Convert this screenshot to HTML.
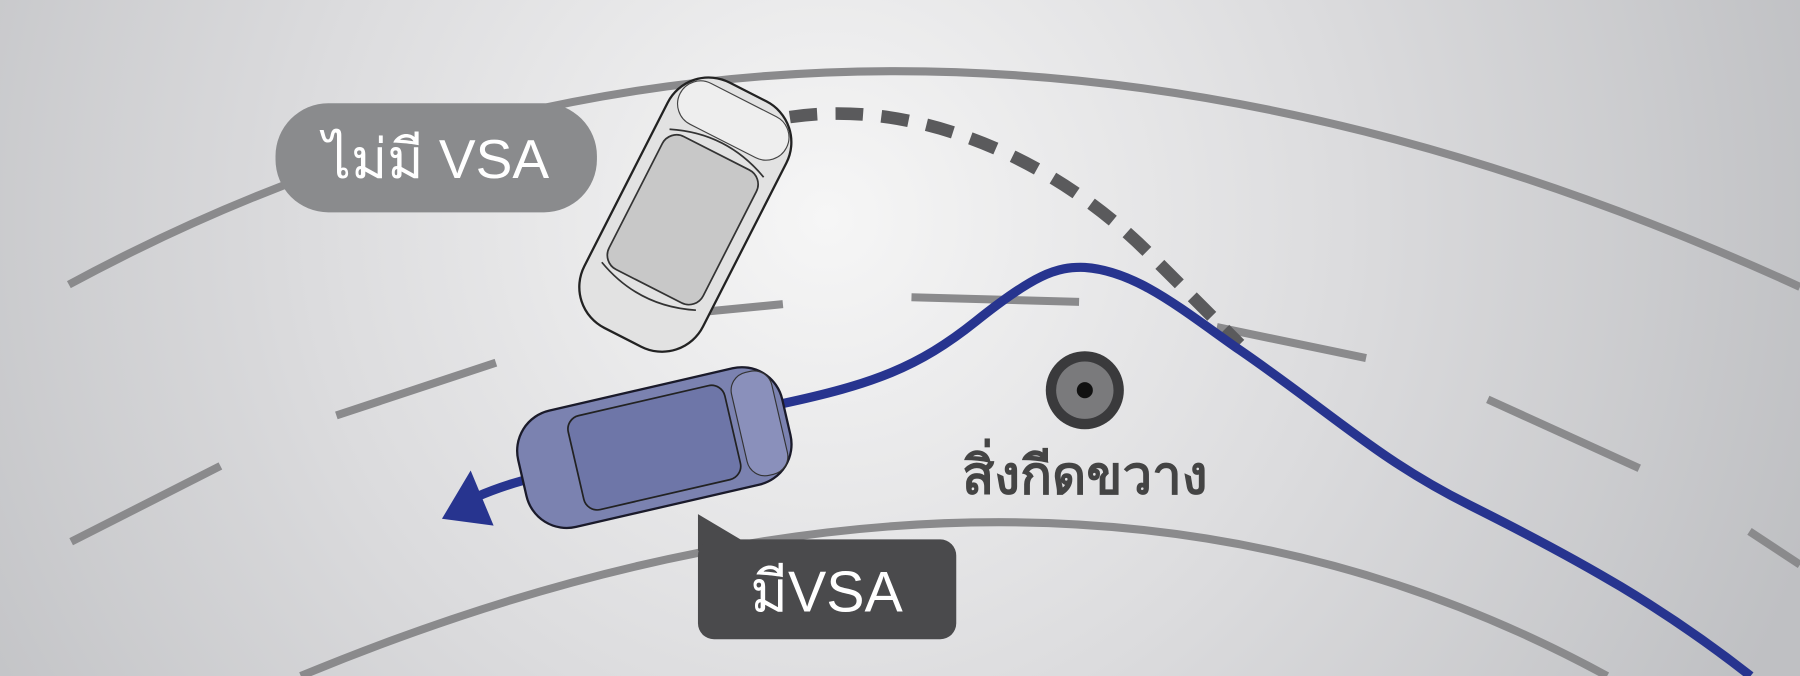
<!DOCTYPE html>
<html><head><meta charset="utf-8"><style>
html,body{margin:0;padding:0;width:1800px;height:676px;overflow:hidden}
svg{display:block}
</style></head><body>
<svg width="1800" height="676" viewBox="0 0 1568 589" preserveAspectRatio="none" xmlns="http://www.w3.org/2000/svg">
<defs>
<radialGradient id="bg" cx="720" cy="190" r="900" gradientUnits="userSpaceOnUse">
<stop offset="0" stop-color="#f6f6f6"/><stop offset="0.5" stop-color="#dcdcde"/><stop offset="1" stop-color="#bfc0c3"/>
</radialGradient>
</defs>
<rect width="1568" height="589" fill="url(#bg)"/>
<g stroke="#8a8a8c" stroke-width="7" fill="none" stroke-linecap="butt">
<path d="M60,248 Q750,-125 1568,250"/>
<path d="M262,589 Q909,321 1400,589"/>
<line x1="62" y1="472" x2="192" y2="406"/>
<line x1="293" y1="362" x2="432" y2="316"/>
<line x1="610" y1="272" x2="682" y2="265"/>
<line x1="794" y1="259" x2="940" y2="263"/>
<line x1="1060" y1="285" x2="1190" y2="312"/>
<line x1="1296" y1="348" x2="1428" y2="408"/>
<line x1="1524" y1="463" x2="1568" y2="492"/>
</g>
<path d="M688,102 C800,85 920,140 1000,220 L1080,300" stroke="#5a5a5c" stroke-width="11" fill="none" stroke-dasharray="24 16"/>
<path d="M680,352 C760,335 800,320 850,280 C900,240 920,232 945,233 C990,236 1030,270 1080,305 C1160,360 1200,400 1280,440 C1380,490 1450,530 1525,589" stroke="#27348f" stroke-width="8" fill="none"/>
<path d="M470,415 Q440,422 415,433" stroke="#27348f" stroke-width="8" fill="none"/>
<polygon points="385,452 430,458 410,410" fill="#27348f"/>
<circle cx="945" cy="340" r="34" fill="#3a3a3c"/>
<circle cx="945" cy="340" r="25" fill="#7a7a7c"/>
<circle cx="945" cy="340" r="7" fill="#111"/>
<!-- white car -->
<g transform="translate(597,187) rotate(27)">
<rect x="-58" y="-120" width="116" height="240" rx="40" fill="#e2e2e2" stroke="#222" stroke-width="2"/>
<rect x="-46" y="-60" width="92" height="130" rx="14" fill="#c8c8c8" stroke="#333" stroke-width="1.5"/>
<path d="M-46,-60 Q0,-80 46,-60" fill="none" stroke="#333" stroke-width="1.5"/>
<path d="M-46,70 Q0,90 46,70" fill="none" stroke="#333" stroke-width="1.5"/>
<rect x="-52" y="-112" width="104" height="40" rx="20" fill="#eee" stroke="#444"/>
</g>
<!-- blue car -->
<g transform="translate(570,390) rotate(-13)">
<rect x="-118" y="-52" width="236" height="104" rx="36" fill="#7b82b0" stroke="#1a1a2a" stroke-width="2"/>
<rect x="-70" y="-42" width="140" height="84" rx="12" fill="#6e76a8" stroke="#222" stroke-width="1.5"/>
<rect x="76" y="-46" width="36" height="92" rx="16" fill="#8a90bb" stroke="#333"/>
</g>
<!-- labels -->
<rect x="240" y="90" width="280" height="95" rx="46" fill="#8a8b8d"/>
<text x="380" y="155" text-anchor="middle" font-family="Liberation Sans, sans-serif" font-size="48" fill="#fff">ไม่มี VSA</text>
<polygon points="608,448 608,480 645,470" fill="#4a4a4c"/>
<rect x="608" y="470" width="225" height="87" rx="14" fill="#4a4a4c"/>
<text x="720" y="533" text-anchor="middle" font-family="Liberation Sans, sans-serif" font-size="50" fill="#fff">มีVSA</text>
<text x="945" y="430" text-anchor="middle" font-family="Liberation Sans, sans-serif" font-size="46" font-weight="bold" fill="#444">สิ่งกีดขวาง</text>
</svg>
</body></html>
